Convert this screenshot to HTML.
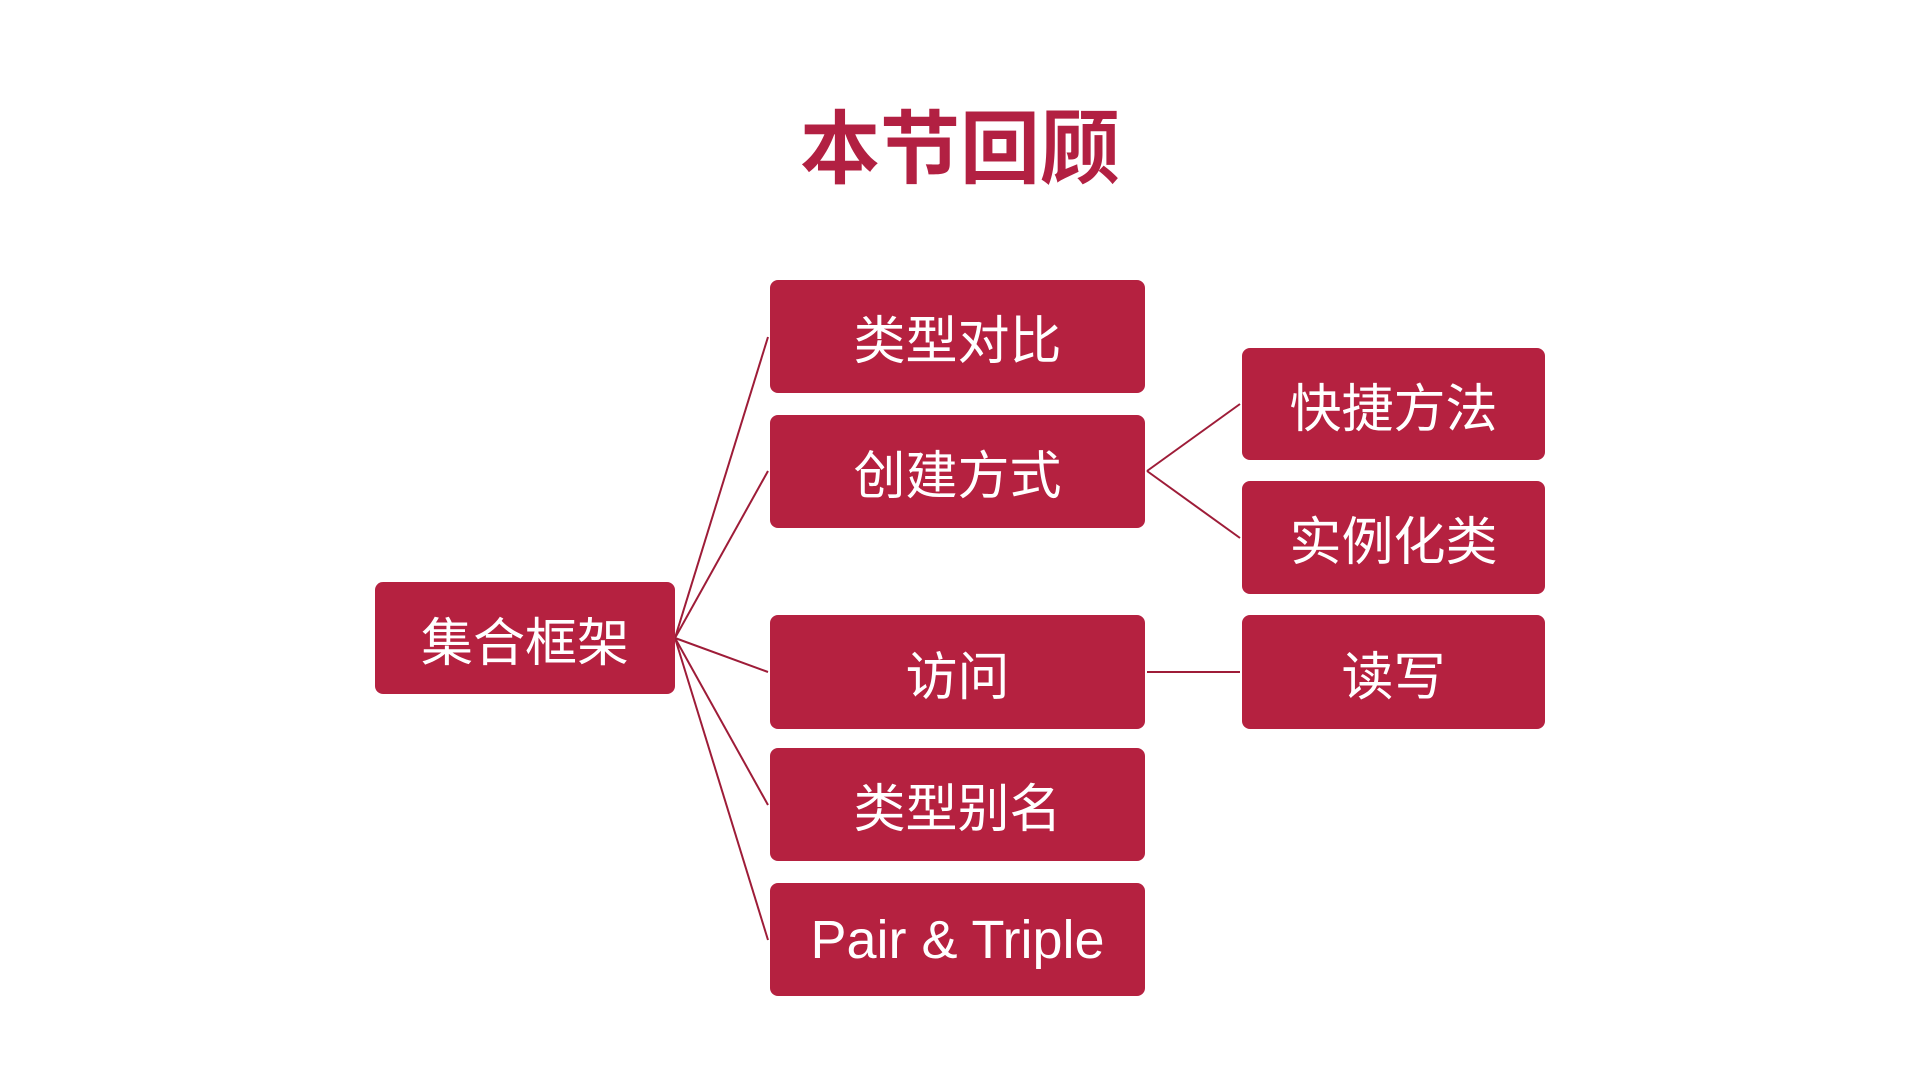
<!DOCTYPE html>
<html><head><meta charset="utf-8"><style>
body{margin:0;width:1920px;height:1080px;background:#fff;position:relative;overflow:hidden;font-family:"Liberation Sans","Noto Sans CJK SC",sans-serif}
.t{position:absolute;left:0;width:1920px;top:110px;text-align:center;font-size:80px;font-weight:bold;color:#b22042;line-height:1}
.b{position:absolute;background:#b52140;border-radius:8px;color:#fff;font-size:52px;display:flex;align-items:center;justify-content:center}
svg{position:absolute;left:0;top:0}
</style></head><body>
<div class="t">本节回顾</div>
<svg width="1920" height="1080"><g stroke="#9e1c38" stroke-width="2" fill="none">
<line x1="675" y1="638" x2="768" y2="337"/>
<line x1="675" y1="638" x2="768" y2="471"/>
<line x1="675" y1="638" x2="768" y2="672"/>
<line x1="675" y1="638" x2="768" y2="805"/>
<line x1="675" y1="638" x2="768" y2="940"/>
<line x1="1147" y1="471" x2="1240" y2="404"/>
<line x1="1147" y1="471" x2="1240" y2="538"/>
<line x1="1147" y1="672" x2="1240" y2="672"/>
</g></svg>
<div class="b" style="left:375px;top:582px;width:300px;height:112px">集合框架</div>
<div class="b" style="left:770px;top:280px;width:375px;height:113px">类型对比</div>
<div class="b" style="left:770px;top:415px;width:375px;height:113px">创建方式</div>
<div class="b" style="left:770px;top:615px;width:375px;height:114px">访问</div>
<div class="b" style="left:770px;top:748px;width:375px;height:113px">类型别名</div>
<div class="b" style="left:770px;top:883px;width:375px;height:113px;font-size:54px">Pair &amp; Triple</div>
<div class="b" style="left:1242px;top:348px;width:303px;height:112px">快捷方法</div>
<div class="b" style="left:1242px;top:481px;width:303px;height:113px">实例化类</div>
<div class="b" style="left:1242px;top:615px;width:303px;height:114px">读写</div>
</body></html>
